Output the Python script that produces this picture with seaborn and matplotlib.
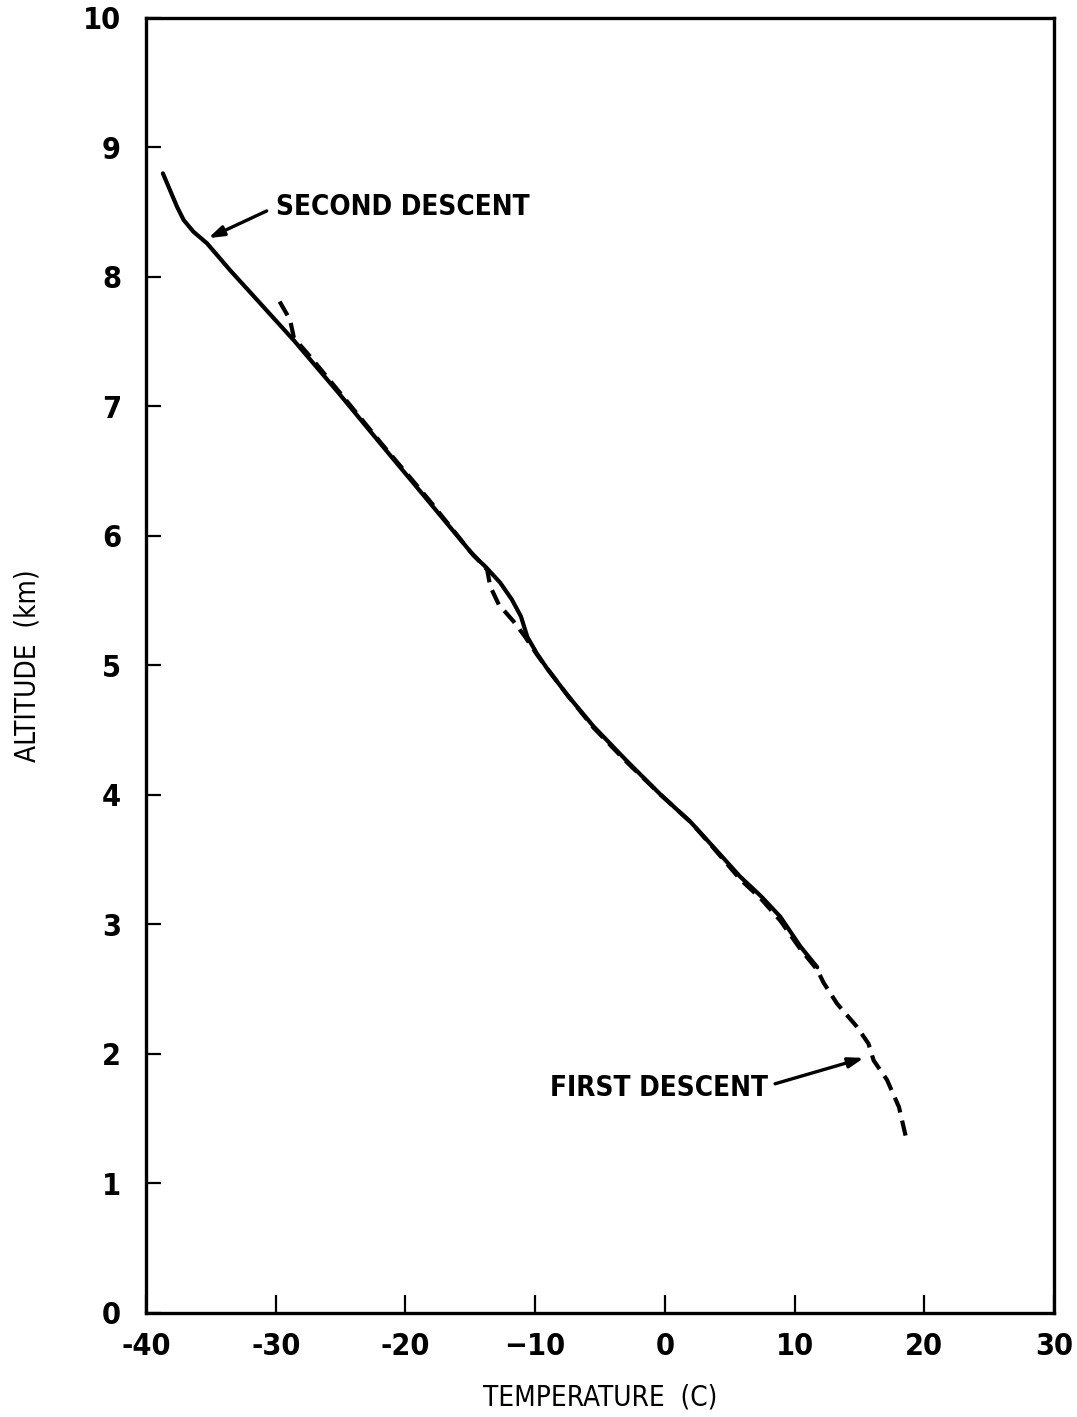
import numpy as np
import pandas as pd
import matplotlib
matplotlib.use("Agg")
import matplotlib.pyplot as plt
import seaborn as sns

# Temperature profiles (deg C) against altitude (km)
second_temp = [-38.7, -38.15, -37.6, -37.1, -36.35, -35.3, -33.5, -31.5, -28.6, -25.2,
               -21.9, -18.4, -14.75, -13.8, -12.7, -11.8, -11.1, -10.6, -9.85, -9.1,
               -7.5, -5.5, -3.0, -0.3, 2.0, 4.0, 5.8, 7.4, 8.9, 10.45, 11.75]
second_alt = [8.80, 8.67, 8.54, 8.44, 8.35, 8.26, 8.05, 7.83, 7.51, 7.11,
              6.71, 6.29, 5.85, 5.76, 5.64, 5.51, 5.38, 5.22, 5.09, 4.98,
              4.77, 4.53, 4.27, 4.00, 3.79, 3.57, 3.37, 3.22, 3.06, 2.83, 2.67]

first_temp = [-29.7, -28.9, -28.6, -27.3, -25.0, -21.9, -18.2, -15.0, -13.7, -13.46,
              -12.8, -11.66, -10.76, -9.9, -9.1, -7.5, -5.5, -3.0, -0.3, 2.0,
              3.5, 5.8, 7.4, 8.9, 10.45, 11.75, 12.24, 13.27, 14.81, 15.7,
              16.1, 17.13, 18.05, 18.56]
first_alt = [7.81, 7.67, 7.53, 7.38, 7.10, 6.72, 6.28, 5.88, 5.74, 5.61,
             5.47, 5.34, 5.22, 5.09, 4.98, 4.77, 4.52, 4.26, 4.00, 3.79,
             3.62, 3.35, 3.20, 3.03, 2.81, 2.65, 2.55, 2.39, 2.21, 2.08,
             1.95, 1.80, 1.59, 1.37]

x_ticks = [-40, -30, -20, -10, 0, 10, 20, 30]
x_tick_labels = ["-40", "-30", "-20", "\u221210", "0", "10", "20", "30"]
y_ticks = [0, 1, 2, 3, 4, 5, 6, 7, 8, 9, 10]

sns.set_style("white")
plt.rcParams["font.family"] = ["Liberation Sans Narrow", "DejaVu Sans"]
plt.rcParams["font.stretch"] = "condensed"
plt.rcParams["text.color"] = "black"
plt.rcParams["axes.labelcolor"] = "black"
plt.rcParams["xtick.color"] = "black"
plt.rcParams["ytick.color"] = "black"

fig = plt.figure(figsize=(10.77, 14.17), dpi=100)
ax = fig.add_axes([0.1356, 0.0734, 0.9786 - 0.1356, 0.9873 - 0.0734])

second = pd.DataFrame({"temp": second_temp, "alt": second_alt})
first = pd.DataFrame({"temp": first_temp, "alt": first_alt})

sns.lineplot(data=first, x="temp", y="alt", sort=False, estimator=None, ax=ax,
             color="black", linewidth=3.0, dashes=False, linestyle=(0, (3.8, 2.0)))
sns.lineplot(data=second, x="temp", y="alt", sort=False, estimator=None, ax=ax,
             color="black", linewidth=3.0)

ax.set_xlim(-40, 30)
ax.set_ylim(0, 10)
ax.set_xticks(x_ticks)
ax.set_xticklabels(x_tick_labels)
ax.set_yticks(y_ticks)

for s in ax.spines.values():
    s.set_linewidth(2.4)
    s.set_color("black")

ax.tick_params(axis="both", direction="in", labelsize=22, width=1.6,
               left=True, bottom=True, right=False, top=False)
ax.tick_params(axis="y", length=11, pad=18)
ax.tick_params(axis="x", length=13, pad=14)
for lbl in ax.get_xticklabels() + ax.get_yticklabels():
    lbl.set_fontweight("bold")

ax.set_xlabel("TEMPERATURE  (C)", fontsize=20, labelpad=16)
ax.set_ylabel("ALTITUDE  (km)", fontsize=20, labelpad=30)

arrow = dict(arrowstyle="-|>,head_length=0.9,head_width=0.3",
             color="black", lw=2.4, shrinkA=0, shrinkB=0)
ax.text(-29.97, 8.54, "SECOND DESCENT", fontsize=20, fontweight="bold",
        va="center", ha="left")
ax.annotate("", xy=(-35.2, 8.30), xytext=(-30.7, 8.51), arrowprops=arrow)
ax.text(7.92, 1.74, "FIRST DESCENT", fontsize=20, fontweight="bold",
        va="center", ha="right")
ax.annotate("", xy=(15.35, 1.97), xytext=(8.5, 1.77), arrowprops=arrow)

fig.savefig("out.png", dpi=100, facecolor="white")
